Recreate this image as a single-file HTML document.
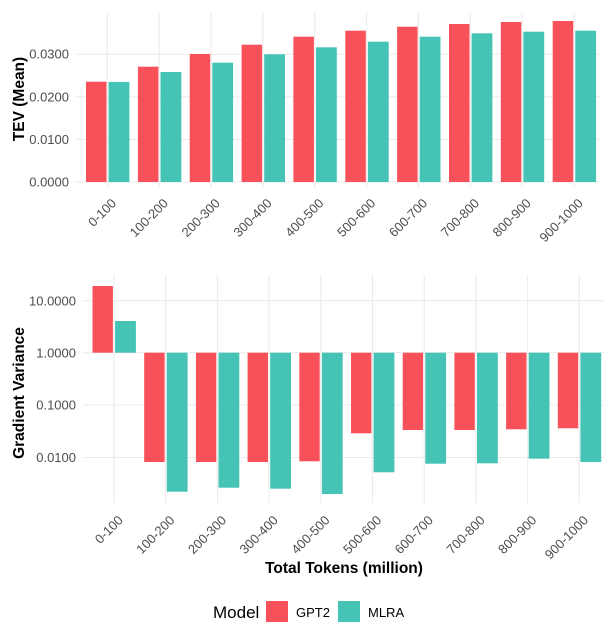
<!DOCTYPE html>
<html><head><meta charset="utf-8"><style>
html,body{margin:0;padding:0;background:#fff;}
svg{display:block;font-family:"Liberation Sans",Arial,sans-serif;}
.g{stroke:#ebebeb;stroke-width:1.1;}
.t{font-size:13px;fill:#4d4d4d;}
.r{fill:#F9515A;}
.c{fill:#45C4B5;}
</style></head><body>
<svg width="611" height="627" viewBox="0 0 611 627" xmlns="http://www.w3.org/2000/svg">
<!-- top panel gridlines -->
<g class="g">
<line x1="76" x2="600" y1="182" y2="182"/>
<line x1="76" x2="600" y1="139.4" y2="139.4"/>
<line x1="76" x2="600" y1="96.8" y2="96.8"/>
<line x1="76" x2="600" y1="54.2" y2="54.2"/>
<line x1="107.3" x2="107.3" y1="13" y2="187"/>
<line x1="159.2" x2="159.2" y1="13" y2="187"/>
<line x1="211" x2="211" y1="13" y2="187"/>
<line x1="262.9" x2="262.9" y1="13" y2="187"/>
<line x1="314.7" x2="314.7" y1="13" y2="187"/>
<line x1="366.6" x2="366.6" y1="13" y2="187"/>
<line x1="418.4" x2="418.4" y1="13" y2="187"/>
<line x1="470.3" x2="470.3" y1="13" y2="187"/>
<line x1="522.1" x2="522.1" y1="13" y2="187"/>
<line x1="574" x2="574" y1="13" y2="187"/>
</g>
<g class="t" text-anchor="end">
<text x="69" y="186.5">0.0000</text>
<text x="69" y="144">0.0100</text>
<text x="69" y="101.3">0.0200</text>
<text x="69" y="58.7">0.0300</text>
</g>
<!-- top bars -->
<g>
<rect class="r" x="86" y="81.7" width="20.5" height="100.3"/><rect class="c" x="108.6" y="82" width="20.8" height="100"/>
<rect class="r" x="137.9" y="66.7" width="20.5" height="115.3"/><rect class="c" x="160.5" y="72" width="20.8" height="110"/>
<rect class="r" x="189.7" y="54" width="20.5" height="128"/><rect class="c" x="212.3" y="62.7" width="20.8" height="119.3"/>
<rect class="r" x="241.6" y="44.7" width="20.5" height="137.3"/><rect class="c" x="264.2" y="54.3" width="20.8" height="127.7"/>
<rect class="r" x="293.4" y="36.7" width="20.5" height="145.3"/><rect class="c" x="316" y="47.3" width="20.8" height="134.7"/>
<rect class="r" x="345.3" y="30.7" width="20.5" height="151.3"/><rect class="c" x="367.9" y="41.7" width="20.8" height="140.3"/>
<rect class="r" x="397.1" y="26.7" width="20.5" height="155.3"/><rect class="c" x="419.7" y="36.7" width="20.8" height="145.3"/>
<rect class="r" x="449" y="24" width="20.5" height="158"/><rect class="c" x="471.6" y="33.3" width="20.8" height="148.7"/>
<rect class="r" x="500.8" y="22" width="20.5" height="160"/><rect class="c" x="523.4" y="31.7" width="20.8" height="150.3"/>
<rect class="r" x="552.7" y="21" width="20.5" height="161"/><rect class="c" x="575.3" y="30.7" width="20.8" height="151.3"/>
</g>
<g class="t" text-anchor="end">
<text transform="translate(117,204) rotate(-45)">0-100</text>
<text transform="translate(168.9,204) rotate(-45)">100-200</text>
<text transform="translate(220.7,204) rotate(-45)">200-300</text>
<text transform="translate(272.6,204) rotate(-45)">300-400</text>
<text transform="translate(324.4,204) rotate(-45)">400-500</text>
<text transform="translate(376.3,204) rotate(-45)">500-600</text>
<text transform="translate(428.1,204) rotate(-45)">600-700</text>
<text transform="translate(480,204) rotate(-45)">700-800</text>
<text transform="translate(531.8,204) rotate(-45)">800-900</text>
<text transform="translate(583.7,204) rotate(-45)">900-1000</text>
</g>
<text transform="translate(24,99) rotate(-90)" text-anchor="middle" font-size="15.5" font-weight="bold" fill="#000">TEV (Mean)</text>

<!-- bottom panel gridlines -->
<g class="g">
<line x1="83" x2="604" y1="300.7" y2="300.7"/>
<line x1="83" x2="604" y1="352.7" y2="352.7"/>
<line x1="83" x2="604" y1="405" y2="405"/>
<line x1="83" x2="604" y1="457.5" y2="457.5"/>
<line x1="114" x2="114" y1="275" y2="503"/>
<line x1="165.7" x2="165.7" y1="275" y2="503"/>
<line x1="217.4" x2="217.4" y1="275" y2="503"/>
<line x1="269.1" x2="269.1" y1="275" y2="503"/>
<line x1="320.8" x2="320.8" y1="275" y2="503"/>
<line x1="372.5" x2="372.5" y1="275" y2="503"/>
<line x1="424.2" x2="424.2" y1="275" y2="503"/>
<line x1="475.9" x2="475.9" y1="275" y2="503"/>
<line x1="527.6" x2="527.6" y1="275" y2="503"/>
<line x1="579.3" x2="579.3" y1="275" y2="503"/>
</g>
<g class="t" text-anchor="end">
<text x="76" y="305.3">10.0000</text>
<text x="76" y="357.3">1.0000</text>
<text x="76" y="409.6">0.1000</text>
<text x="76" y="462.1">0.0100</text>
</g>
<g>
<rect class="r" x="92.5" y="286" width="20.4" height="66.7"/><rect class="c" x="115.1" y="321" width="20.8" height="31.7"/>
<rect class="r" x="144.2" y="352.7" width="20.4" height="109.3"/><rect class="c" x="166.8" y="352.7" width="20.8" height="139"/>
<rect class="r" x="195.9" y="352.7" width="20.4" height="109.3"/><rect class="c" x="218.5" y="352.7" width="20.8" height="135"/>
<rect class="r" x="247.6" y="352.7" width="20.4" height="109.3"/><rect class="c" x="270.2" y="352.7" width="20.8" height="136"/>
<rect class="r" x="299.3" y="352.7" width="20.4" height="108.6"/><rect class="c" x="321.9" y="352.7" width="20.8" height="141.3"/>
<rect class="r" x="351" y="352.7" width="20.4" height="80.6"/><rect class="c" x="373.6" y="352.7" width="20.8" height="119.6"/>
<rect class="r" x="402.7" y="352.7" width="20.4" height="77.3"/><rect class="c" x="425.3" y="352.7" width="20.8" height="111"/>
<rect class="r" x="454.4" y="352.7" width="20.4" height="77.3"/><rect class="c" x="477" y="352.7" width="20.8" height="110.6"/>
<rect class="r" x="506.1" y="352.7" width="20.4" height="76.6"/><rect class="c" x="528.7" y="352.7" width="20.8" height="106"/>
<rect class="r" x="557.8" y="352.7" width="20.4" height="75.6"/><rect class="c" x="580.4" y="352.7" width="20.8" height="109.3"/>
</g>
<g class="t" text-anchor="end">
<text transform="translate(123.7,521) rotate(-45)">0-100</text>
<text transform="translate(175.4,521) rotate(-45)">100-200</text>
<text transform="translate(227.1,521) rotate(-45)">200-300</text>
<text transform="translate(278.8,521) rotate(-45)">300-400</text>
<text transform="translate(330.5,521) rotate(-45)">400-500</text>
<text transform="translate(382.2,521) rotate(-45)">500-600</text>
<text transform="translate(433.9,521) rotate(-45)">600-700</text>
<text transform="translate(485.6,521) rotate(-45)">700-800</text>
<text transform="translate(537.3,521) rotate(-45)">800-900</text>
<text transform="translate(589,521) rotate(-45)">900-1000</text>
</g>
<text transform="translate(24,393) rotate(-90)" text-anchor="middle" font-size="15.5" font-weight="bold" fill="#000">Gradient Variance</text>
<text x="344" y="573" text-anchor="middle" font-size="15.5" font-weight="bold" fill="#000">Total Tokens (million)</text>

<!-- legend -->
<text x="213" y="618" font-size="17" fill="#000">Model</text>
<rect class="r" x="266" y="601" width="22" height="21"/>
<text x="296" y="617" font-size="13" fill="#000">GPT2</text>
<rect class="c" x="338" y="601" width="22" height="21"/>
<text x="368" y="617" font-size="13" fill="#000">MLRA</text>
</svg>
</body></html>
